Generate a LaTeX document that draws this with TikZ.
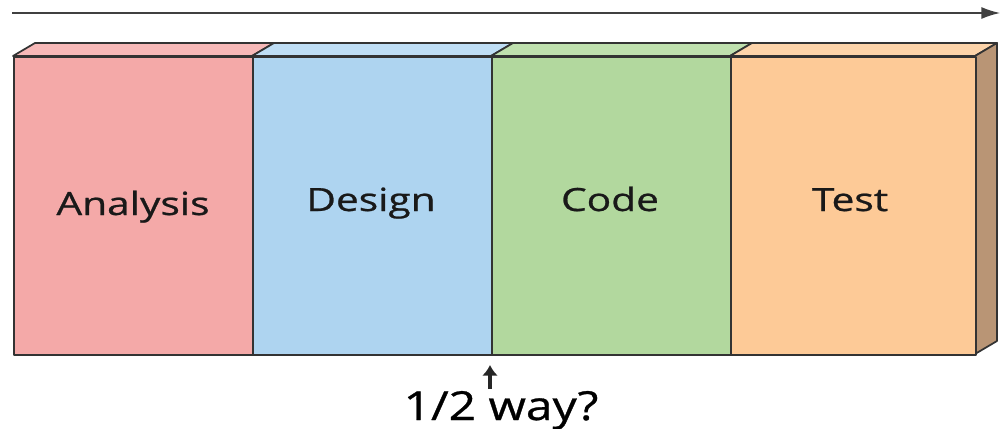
\documentclass[tikz,border=0pt]{standalone}
\usepackage{fontspec}
\setmainfont{Open Sans}
\newfontfamily\labfont[BoldFont={Open Sans},BoldFeatures={FakeBold=0.7}]{Open Sans}
\usetikzlibrary{arrows.meta}
\definecolor{pinkF}{HTML}{F4A9A8}
\definecolor{pinkT}{HTML}{F7B9B8}
\definecolor{blueF}{HTML}{AED4F0}
\definecolor{blueT}{HTML}{BFDEF5}
\definecolor{greenF}{HTML}{B2D89E}
\definecolor{greenT}{HTML}{BFE0AE}
\definecolor{orangeF}{HTML}{FDCA97}
\definecolor{orangeT}{HTML}{FDD4AA}
\definecolor{sideC}{HTML}{B99575}
\definecolor{edge}{HTML}{333333}
\tikzset{
  face/.style={draw=edge, line width=1.3pt, line join=round},
  frontface/.style={face, minimum height=298*0.75pt, inner sep=0pt, anchor=north west},
  phase/.style={font=\labfont\bfseries\fontsize{24}{28}\selectfont, xscale=1.27, text=black!90},
  timeline/.style={draw=black!75, line width=1.1pt, -{Latex[length=14pt,width=9pt]}},
  pointer/.style={draw=black!85, line width=3pt, -{Latex[length=8pt,width=12pt]}},
}
\begin{document}
\begin{tikzpicture}[x=0.75pt,y=-0.75pt]
\useasboundingbox (0,0) rectangle (1005,428);
% top arrow
\coordinate (tl) at (12,13);
\coordinate (tr) at (1000,13);
\draw[timeline] (tl) -- (tr);
% top faces
\fill[pinkT,face] (13,56) -- (35,43) -- (274,43) -- (252,56) -- cycle;
\fill[blueT,face] (252,56) -- (274,43) -- (513,43) -- (491,56) -- cycle;
\fill[greenT,face] (491,56) -- (513,43) -- (752,43) -- (730,56) -- cycle;
\fill[orangeT,face] (730,56) -- (752,43) -- (997,43) -- (975,56) -- cycle;
% side face
\fill[sideC,face] (975,56) -- (997,43) -- (997,341) -- (975,354) -- cycle;
% front faces
\node[frontface, fill=pinkF, minimum width=239*0.75pt] (an) at (13,56) {};
\node[frontface, fill=blueF, minimum width=239*0.75pt] (de) at (252,56) {};
\node[frontface, fill=greenF, minimum width=239*0.75pt] (co) at (491,56) {};
\node[frontface, fill=orangeF, minimum width=245*0.75pt] (te) at (730,56) {};
% labels
\node[phase, anchor=base] at (133,215) {Analysis};
\node[phase, anchor=base] at (371,211) {Design};
\node[phase, anchor=base] at (610,211) {Code};
\node[phase, anchor=base] at (850,211) {Test};
% half way
\node[font=\labfont\bfseries\fontsize{30}{34}\selectfont, xscale=1.2, anchor=base, inner sep=0pt] (hw) at (501,420) {1/2 way?};
\coordinate (hwt) at (490,389);
\coordinate (hwh) at (490,365);
\draw[pointer] (hwt) -- (hwh);
\end{tikzpicture}
\end{document}
